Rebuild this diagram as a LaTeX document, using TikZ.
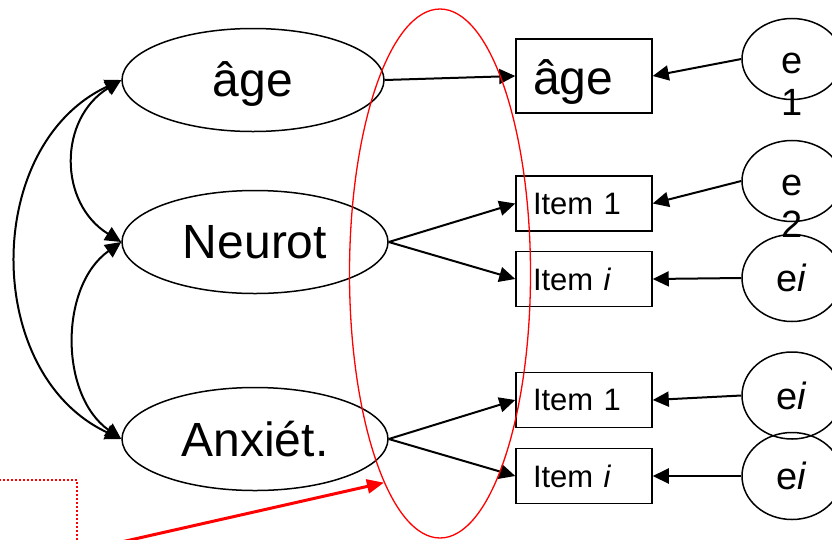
\documentclass[tikz,border=0pt]{standalone}
\usepackage{fontspec}
\setmainfont{Liberation Sans}
\usetikzlibrary{arrows.meta,shapes.geometric}
\begin{document}
\begin{tikzpicture}[x=1pt,y=-1pt,
	latent/.style={ellipse, draw=black, line width=1.5pt, inner sep=0pt, minimum width=266pt, minimum height=103pt, font=\fontsize{48}{58}\selectfont},
	manifest/.style={rectangle, draw=black, line width=1.5pt, inner xsep=17pt, inner ysep=0pt, text width=102pt, align=left, minimum height=55pt, font=\fontsize{31}{37}\selectfont},
	err/.style={ellipse, draw=black, line width=1.5pt, inner sep=0pt, minimum width=100pt, minimum height=87pt, font=\fontsize{38}{42}\selectfont},
	arr/.style={line width=2pt, -{Triangle[length=16pt,width=15pt]}},
	cov/.style={line width=2pt, {Triangle[length=16pt,width=15pt]}-{Triangle[length=16pt,width=15pt]}},
	ring/.style={ellipse, draw=red, line width=1.3pt, inner sep=0pt, minimum width=181pt, minimum height=529pt}]

\useasboundingbox (0,0) rectangle (832,539);
\clip (0,0) rectangle (832,539);

% latent variables
\node[latent, minimum width=262pt, text height=36pt, text depth=4pt] (ageL) at (253,80) {âge};
\node[latent] (neuroL) at (255,242) {Neurot};
\node[latent] (anxL) at (255,439) {Anxiét.};

% observed variables
\node[manifest, minimum height=74pt, font=\fontsize{48}{58}\selectfont, text height=36pt, text depth=0pt] (ageM) at (584,76) {âge};
\node[manifest] (item1N) at (584,203.5) {Item 1};
\node[manifest] (itemiN) at (584,279) {Item \textit{i}};
\node[manifest] (item1A) at (584,400) {Item 1};
\node[manifest] (itemiA) at (584,476) {Item \textit{i}};

% error terms
\node[err, minimum height=81pt, text height=28pt, text depth=0pt] (e1) at (792,59) {\begin{tabular}[t]{@{}c@{}}e\\1\end{tabular}};
\node[err, minimum height=81pt, text height=28pt, text depth=0pt] (e2) at (792,181) {\begin{tabular}[t]{@{}c@{}}e\\2\end{tabular}};
\node[err] (ei1) at (792,278) {e\textit{i}};
\node[err] (ei2) at (792,395.5) {e\textit{i}};
\node[err] (ei3) at (792,476) {e\textit{i}};

% loadings
\draw[arr] (ageL.east) -- (ageM.west);
\draw[arr] (neuroL.east) -- (item1N.west);
\draw[arr] (neuroL.east) -- (itemiN.west);
\draw[arr] (anxL.east) -- (item1A.west);
\draw[arr] (anxL.east) -- (itemiA.west);

% errors
\draw[arr] (e1.west) -- (ageM.east);
\draw[arr] (e2.west) -- (item1N.east);
\draw[arr] (ei1.west) -- (itemiN.east);
\draw[arr] (ei2.west) -- (item1A.east);
\draw[arr] (ei3.west) -- (itemiA.east);

% covariances
\draw[cov] (ageL.west) .. controls +(-63,39) and +(-63,-39) .. (neuroL.west);
\draw[cov] (neuroL.west) .. controls +(-62,44) and +(-62,-44) .. (anxL.west);
\draw[cov] (ageL.west) .. controls +(-139,65) and +(-139,-65) .. (anxL.west);

% red highlight
\node[ring] (focus) at (440,273.5) {};
\coordinate (pointer) at (108,545);
\draw[red, line width=3pt, -{Triangle[length=17pt,width=14pt]}] (pointer) -- (focus.255.5);
\draw[red, line width=2pt, dash pattern=on 2pt off 2pt] (-5,480) -- (77,480) -- (77,545);

\end{tikzpicture}
\end{document}
